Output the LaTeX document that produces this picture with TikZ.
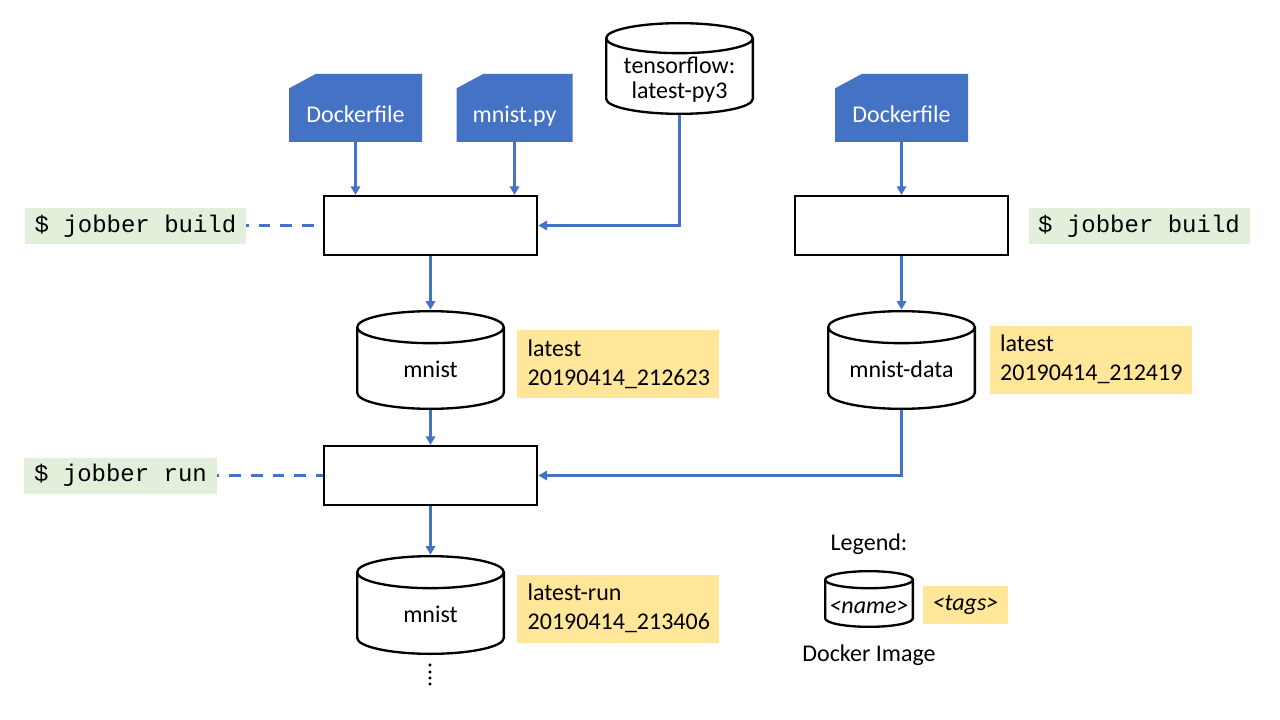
\documentclass[tikz,border=0pt]{standalone}
\usepackage{fontspec}
\setmainfont{Carlito}
\setmonofont{Liberation Mono}
\usepackage{xcolor}
\usetikzlibrary{arrows.meta,positioning,calc}

\definecolor{docblue}{HTML}{4472C4}
\definecolor{tagyellow}{HTML}{FFE699}
\definecolor{cmdgreen}{HTML}{E2EFDA}

\begin{document}
\begin{tikzpicture}[x=0.75pt,y=-0.75pt,
    font=\fontsize{18}{22}\selectfont,
    rim/.store in=\rimsize, rim=12pt,
    docfile/.style={rectangle,text=white,minimum width=99.75pt,minimum height=51pt,inner sep=0pt,
        text height=25pt,text depth=3pt,
        path picture={\fill[docblue] (path picture bounding box.south west) -- (path picture bounding box.south east)
            -- (path picture bounding box.north east) -- ([xshift=20pt]path picture bounding box.north west)
            -- ([yshift=-10.75pt]path picture bounding box.north west) -- cycle;}},
    stage/.style={rectangle,draw,line width=1.75pt,minimum width=160pt,minimum height=44pt},
    image/.style={rectangle,inner sep=0pt,minimum width=111.75pt,minimum height=75pt,
        text height=28pt,text depth=1.5pt,
        path picture={\draw[line width=1.75pt]
            let \p1=(path picture bounding box.north east), \p2=(path picture bounding box.south west),
                \n1={(\x1-\x2)/2-0.875pt}, \n2={\rimsize}, \n3={(\x1+\x2)/2} in
            (\x2+0.875pt,\y1-0.875pt-\n2) -- (\x2+0.875pt,\y2+0.875pt+\n2)
            arc[start angle=180,end angle=360,x radius=\n1,y radius=\n2]
            -- (\x1-0.875pt,\y1-0.875pt-\n2)
            (\n3,\y1-0.875pt-\n2) ellipse[x radius=\n1,y radius=\n2];}},
    tags/.style={rectangle,fill=tagyellow,align=left,text width=135.5pt,inner xsep=8pt,minimum height=51pt},
    cmd/.style={rectangle,fill=cmdgreen,font=\ttfamily\fontsize{18}{22}\selectfont,inner xsep=7.25pt,minimum height=27pt},
    flow/.style={-{Triangle[length=6.5pt,width=7pt]},line width=2pt,docblue},
    link/.style={line width=2.25pt,docblue,dash pattern=on 8.75pt off 7.5pt,dash phase=7pt}]
    \useasboundingbox (0,0) rectangle (1280,720);

    % Sources of the first build
    \node[docfile] (dockerA) at (355.5,108) {Dockerfile};
    \node[docfile,minimum width=87pt] (mnistpy) at (514.5,108) {mnist.py};
    \node[image,rim=11.25pt,minimum height=69.75pt,text height=35.5pt,text depth=8.5pt] (tf) at (679.5,68.5)
        {\fontsize{18}{18.75}\selectfont\begin{tabular}{@{}c@{}}tensorflow:\\latest-py3\end{tabular}};
    \node[docfile] (dockerB) at (901.5,108) {Dockerfile};

    % Build steps
    \node[stage] (buildA) at (430.5,225.5) {};
    \node[stage] (buildB) at (901.5,225.5) {};
    \node[cmd] (cmdA) at (135.5,226) {\$ jobber build};
    \node[cmd] (cmdB) at (1139,226) {\$ jobber build};

    % Built images
    \node[image] (mnist) at (430.5,360) {mnist};
    \node[tags] (tagsA) at (618,364) {latest\\20190414\_212623};
    \node[image] (data) at (901.5,360) {mnist-data};
    \node[tags] (tagsB) at (1090.5,359.5) {latest\\20190414\_212419};

    % Run step
    \node[stage] (run) at (430.5,475.5) {};
    \node[cmd] (cmdC) at (120.5,475.5) {\$ jobber run};
    \node[image] (result) at (430.5,605) {mnist};
    \node[tags] (tagsC) at (618,608.5) {latest-run\\20190414\_213406};
    \node[rotate=90] (more) at (430,675) {....};

    % Legend
    \node (legend) at (869,544) {Legend:};
    \node[image,rim=6.4pt,minimum width=67.5pt,minimum height=43.5pt,text height=23.5pt] (key) at (869,599) {\textit{<name>}};
    \node[fill=tagyellow,minimum width=63.75pt,minimum height=28.5pt] (keytags) at (965.5,605) {\textit{<tags>}};
    \node (keycaption) at (869,655) {Docker Image};

    % Connectors
    \draw[flow] (dockerA.south) -- (dockerA.south |- buildA.north);
    \draw[flow] (mnistpy.south) -- (mnistpy.south |- buildA.north);
    \draw[flow] (tf.south) |- (buildA.east);
    \draw[flow] (dockerB.south) -- (dockerB.south |- buildB.north);
    \draw[flow] (buildA.south) -- (buildA.south |- mnist.north);
    \draw[flow] (buildB.south) -- (buildB.south |- data.north);
    \draw[flow] (mnist.south) -- (mnist.south |- run.north);
    \draw[flow] (data.south) |- (run.east);
    \draw[flow] (run.south) -- (run.south |- result.north);
    \draw[link] (cmdA.east) -- (cmdA.east -| buildA.west);
    \draw[link] (cmdC.east) -- (cmdC.east -| run.west);
\end{tikzpicture}
\end{document}
